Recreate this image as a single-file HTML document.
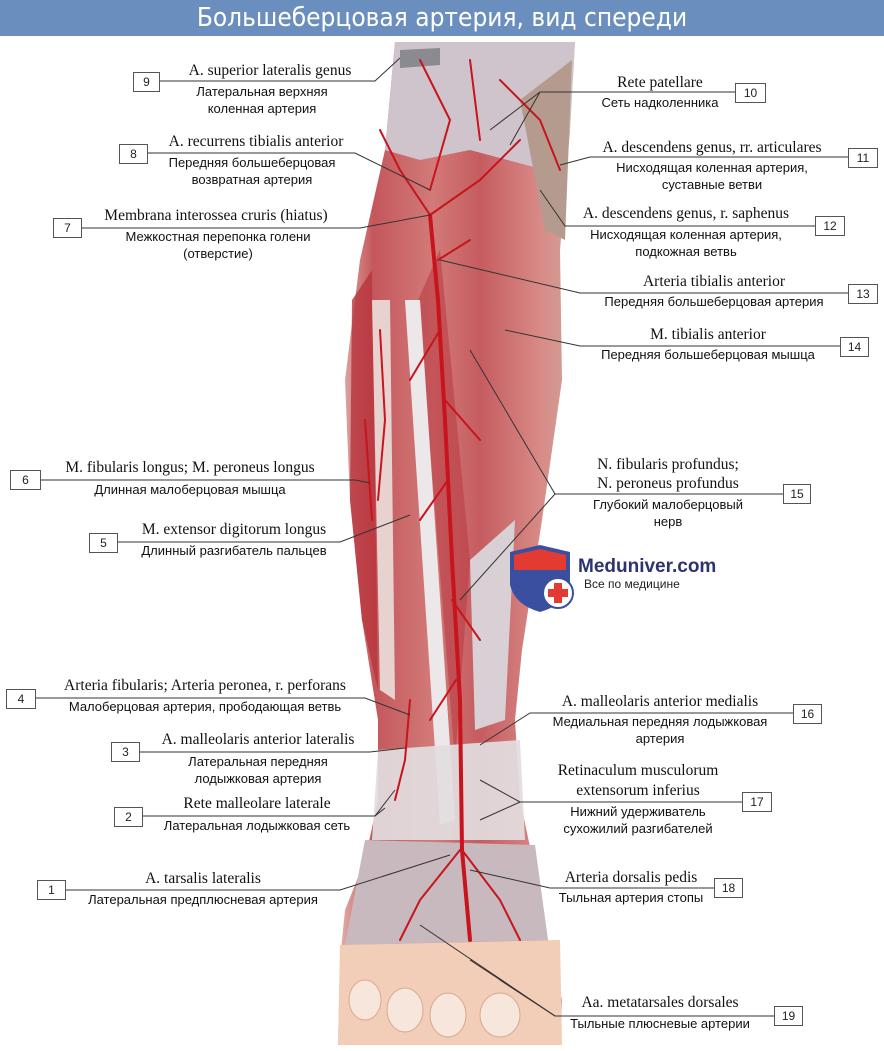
<!DOCTYPE html>
<html><head><meta charset="utf-8"><style>
body{margin:0;width:884px;height:1051px;background:#fff;position:relative;overflow:hidden;font-family:"Liberation Sans",sans-serif}
.hdr{position:absolute;left:0;top:0;width:884px;height:36px;background:#6a8fbf;color:#fff;font-size:26px;text-align:center;line-height:36px;font-family:"DejaVu Sans Condensed","Liberation Sans Narrow","Liberation Sans",sans-serif}
.t{position:absolute;white-space:nowrap;transform:translateX(-50%);text-align:center}
.l{font-family:"Liberation Serif",serif;font-size:15.5px;color:#111}
.r{font-size:13px;color:#111;line-height:16.5px}
.b{position:absolute;border:1px solid #555;background:#fff;font-size:12px;text-align:center;line-height:18px;height:18px;color:#222}
</style></head><body>
<div class="hdr">Большеберцовая артерия, вид спереди</div>
<svg width="884" height="1051" style="position:absolute;left:0;top:0">
<defs>
<linearGradient id="mg" x1="0" x2="1"><stop offset="0" stop-color="#e3b4b0"/><stop offset="0.15" stop-color="#c4575c"/><stop offset="0.4" stop-color="#d27a78"/><stop offset="0.6" stop-color="#c55c60"/><stop offset="0.85" stop-color="#d88a86"/><stop offset="1" stop-color="#cfa49a"/></linearGradient>
</defs>
<path d="M395,42 L575,42 L570,130 L560,250 L562,380 L542,520 L522,650 L515,720 L520,800 L535,870 L548,940 L562,1000 L560,1045 L338,1045 L340,960 L345,910 L365,860 L378,800 L378,720 L362,620 L350,500 L345,380 L360,260 L385,150 Z" fill="url(#mg)"/>
<path d="M395,42 L575,42 L570,130 L545,170 L470,150 L420,160 L385,150 Z" fill="#cfc4cc"/>
<path d="M400,50 L440,48 L440,65 L400,68Z" fill="#8a8a90"/>
<path d="M520,100 L572,60 L565,240 L545,230 Z" fill="#b59a8e"/>
<path d="M352,300 L372,270 L378,690 L362,620 L350,500Z" fill="#b8343c" opacity="0.8"/>
<path d="M418,300 L440,250 L470,560 L455,760 Z" fill="#b93c44" opacity="0.6"/>
<path d="M405,300 L420,300 L455,820 L440,825 Z" fill="#ece8ea"/>
<path d="M470,560 L515,520 L505,720 L475,730 Z" fill="#d8d0d4"/>
<path d="M372,300 L390,300 L395,700 L380,690 Z" fill="#e8d2d0"/>
<path d="M378,750 L520,740 L525,840 L372,840 Z" fill="#e2dde0" opacity="0.92"/>
<path d="M365,840 L535,845 L548,940 L345,945 Z" fill="#c7b9be"/>
<path d="M340,945 L560,940 L562,1045 L338,1045 Z" fill="#f2cdb8"/>
<g fill="#f7e6dc" stroke="#d9a890"><ellipse cx="365" cy="1000" rx="16" ry="20"/><ellipse cx="405" cy="1010" rx="18" ry="22"/><ellipse cx="448" cy="1015" rx="18" ry="22"/><ellipse cx="500" cy="1015" rx="20" ry="22"/></g>
<g stroke="#c8141c" fill="none" stroke-width="4" stroke-linecap="round">
<path d="M430,215 L438,300 L445,420 L452,560 L460,700 L462,850 L470,940"/>
<g stroke-width="2"><path d="M440,330 L410,380 M445,400 L480,440 M448,480 L420,520 M452,600 L480,640 M456,680 L430,720 M438,260 L470,240 M430,215 L400,170 L380,130 M430,215 L480,180 L520,140 M460,850 L420,900 L400,940 M462,850 L500,900 L520,940 M410,700 L405,760 L395,800 M420,60 L450,120 L430,190 M470,60 L480,140 M500,80 L540,120 L560,170 M380,330 L385,420 L378,500 M365,420 L372,520"/></g></g>
<g stroke="#333" fill="none" stroke-width="1">
<polyline points="158,81 375,81 400,58"/><polyline points="146,153 355,153 430,190"/><polyline points="80,228 360,228 430,215"/>
<polyline points="39,480 355,480 370,483"/><polyline points="116,542 340,542 410,515"/><polyline points="34,698 365,698 410,715"/>
<polyline points="138,752 370,752 405,748"/><polyline points="141,816 375,816 395,790"/><polyline points="375,816 385,808"/><polyline points="64,890 340,890 450,855"/>
<polyline points="735,92 540,92 490,130"/><polyline points="540,92 510,145"/><polyline points="848,157 590,157 560,165"/><polyline points="815,226 565,226 540,190"/>
<polyline points="848,293 580,293 440,260"/><polyline points="840,346 580,346 505,330"/><polyline points="783,494 555,494 470,350"/><polyline points="555,494 460,600"/>
<polyline points="793,713 530,713 480,745"/><polyline points="742,802 520,802 480,780"/><polyline points="520,802 480,820"/><polyline points="714,888 550,888 470,870"/>
<polyline points="774,1016 555,1016 420,925"/><polyline points="555,1016 470,960"/><polyline points="555,1016 500,980"/>
</g>
<path d="M510,552 L540,545 L570,552 L570,585 Q565,605 540,612 Q515,605 510,585Z" fill="#3a4fa0"/>
<path d="M514,555 L540,549 L566,555 L566,570 L514,570Z" fill="#e23b32"/>
<circle cx="558" cy="593" r="15" fill="#fff" stroke="#3a4fa0" stroke-width="2"/>
<path d="M554,583h8v6h6v8h-6v6h-8v-6h-6v-8h6z" fill="#e23b32"/>
<text x="578" y="572" font-family="Liberation Sans" font-weight="bold" font-size="19" fill="#2d3370">Meduniver.com</text>
<text x="584" y="588" font-family="Liberation Sans" font-size="12" fill="#222">Все по медицине</text>
</svg>
<div class="b" style="left:133px;top:72px;width:25px">9</div>
<div class="b" style="left:735px;top:83px;width:29px">10</div>
<div class="b" style="left:119px;top:144px;width:27px">8</div>
<div class="b" style="left:848px;top:148px;width:28px">11</div>
<div class="b" style="left:53px;top:218px;width:27px">7</div>
<div class="b" style="left:815px;top:216px;width:28px">12</div>
<div class="b" style="left:848px;top:284px;width:28px">13</div>
<div class="b" style="left:840px;top:337px;width:27px">14</div>
<div class="b" style="left:10px;top:470px;width:29px">6</div>
<div class="b" style="left:783px;top:484px;width:26px">15</div>
<div class="b" style="left:89px;top:533px;width:27px">5</div>
<div class="b" style="left:6px;top:689px;width:28px">4</div>
<div class="b" style="left:793px;top:704px;width:27px">16</div>
<div class="b" style="left:111px;top:742px;width:27px">3</div>
<div class="b" style="left:742px;top:792px;width:28px">17</div>
<div class="b" style="left:114px;top:807px;width:27px">2</div>
<div class="b" style="left:37px;top:880px;width:27px">1</div>
<div class="b" style="left:714px;top:878px;width:27px">18</div>
<div class="b" style="left:774px;top:1006px;width:27px">19</div>

<div class="t l" style="left:270px;top:62px">A. superior lateralis genus</div>
<div class="t r" style="left:262px;top:84px">Латеральная верхняя<br>коленная артерия</div>
<div class="t l" style="left:660px;top:74px">Rete patellare</div>
<div class="t r" style="left:660px;top:95px">Сеть надколенника</div>
<div class="t l" style="left:256px;top:133px">A. recurrens tibialis anterior</div>
<div class="t r" style="left:252px;top:155px">Передняя большеберцовая<br>возвратная артерия</div>
<div class="t l" style="left:712px;top:139px">A. descendens genus, rr. articulares</div>
<div class="t r" style="left:712px;top:160px">Нисходящая коленная артерия,<br>суставные ветви</div>
<div class="t l" style="left:216px;top:207px">Membrana interossea cruris (hiatus)</div>
<div class="t r" style="left:218px;top:229px">Межкостная перепонка голени<br>(отверстие)</div>
<div class="t l" style="left:686px;top:205px">A. descendens genus, r. saphenus</div>
<div class="t r" style="left:686px;top:227px">Нисходящая коленная артерия,<br>подкожная ветвь</div>
<div class="t l" style="left:714px;top:273px">Arteria tibialis anterior</div>
<div class="t r" style="left:714px;top:294px">Передняя большеберцовая артерия</div>
<div class="t l" style="left:708px;top:326px">M. tibialis anterior</div>
<div class="t r" style="left:708px;top:347px">Передняя большеберцовая мышца</div>
<div class="t l" style="left:190px;top:459px">M. fibularis longus; M. peroneus longus</div>
<div class="t r" style="left:190px;top:482px">Длинная малоберцовая мышца</div>
<div class="t l" style="left:668px;top:456px">N. fibularis profundus;</div>
<div class="t l" style="left:668px;top:475px">N. peroneus profundus</div>
<div class="t r" style="left:668px;top:497px">Глубокий малоберцовый<br>нерв</div>
<div class="t l" style="left:234px;top:521px">M. extensor digitorum longus</div>
<div class="t r" style="left:234px;top:543px">Длинный разгибатель пальцев</div>
<div class="t l" style="left:205px;top:677px">Arteria fibularis; Arteria peronea, r. perforans</div>
<div class="t r" style="left:205px;top:699px">Малоберцовая артерия, прободающая ветвь</div>
<div class="t l" style="left:660px;top:693px">A. malleolaris anterior medialis</div>
<div class="t r" style="left:660px;top:714px">Медиальная передняя лодыжковая<br>артерия</div>
<div class="t l" style="left:258px;top:731px">A. malleolaris anterior lateralis</div>
<div class="t r" style="left:258px;top:754px">Латеральная передняя<br>лодыжковая артерия</div>
<div class="t l" style="left:638px;top:762px">Retinaculum musculorum</div>
<div class="t l" style="left:638px;top:782px">extensorum inferius</div>
<div class="t r" style="left:638px;top:804px">Нижний удерживатель<br>сухожилий разгибателей</div>
<div class="t l" style="left:257px;top:795px">Rete malleolare laterale</div>
<div class="t r" style="left:257px;top:818px">Латеральная лодыжковая сеть</div>
<div class="t l" style="left:203px;top:870px">A. tarsalis lateralis</div>
<div class="t r" style="left:203px;top:892px">Латеральная предплюсневая артерия</div>
<div class="t l" style="left:631px;top:869px">Arteria dorsalis pedis</div>
<div class="t r" style="left:631px;top:890px">Тыльная артерия стопы</div>
<div class="t l" style="left:660px;top:994px">Aa. metatarsales dorsales</div>
<div class="t r" style="left:660px;top:1016px">Тыльные плюсневые артерии</div>
</body></html>
